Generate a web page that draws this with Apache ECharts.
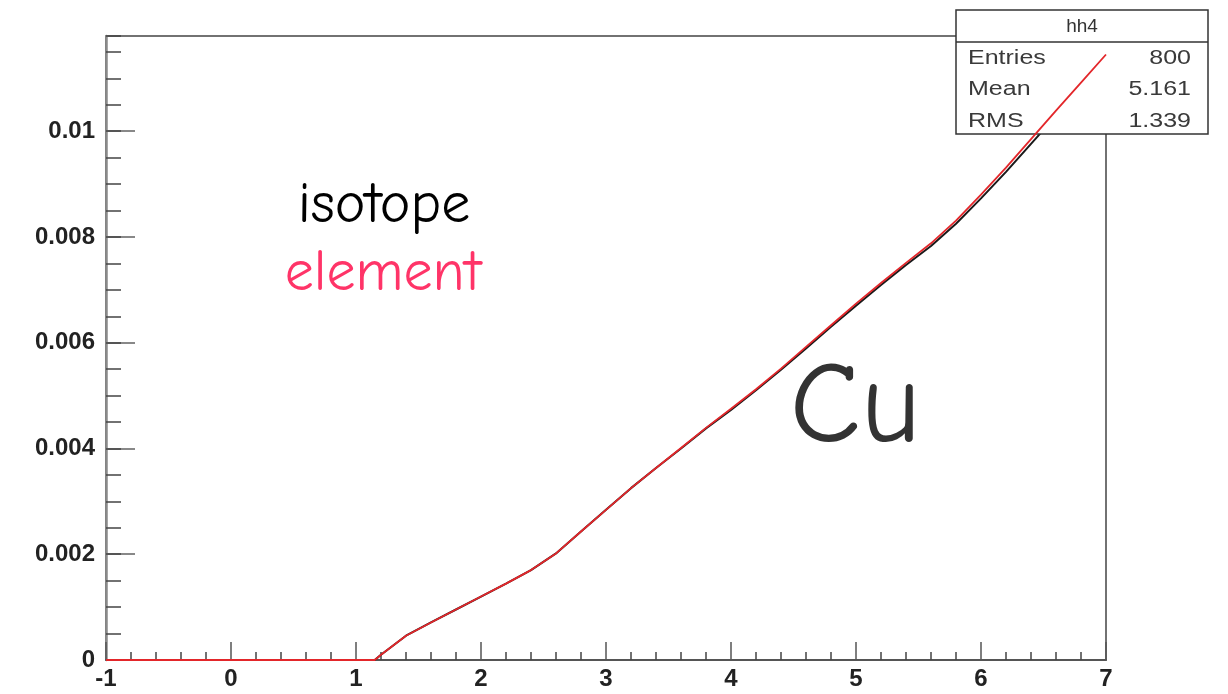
<!DOCTYPE html>
<html>
<head>
<meta charset="utf-8">
<script src="https://cdn.jsdelivr.net/npm/echarts@6/dist/echarts.min.js"></script>
<style>
html,body{margin:0;padding:0;background:#fff;}
#chart{width:1228px;height:694px;}
</style>
</head>
<body>
<div id="chart"></div>
<script>
// ---- data ----
const xValues   = [-1, 1.15, 1.2, 1.4, 1.6, 1.8, 2.0, 2.2, 2.4, 2.6, 2.8, 3.0, 3.2, 3.4, 3.6, 3.8, 4.0, 4.2, 4.4, 4.6, 4.8, 5.0, 5.2, 5.4, 5.6, 5.8, 6.0, 6.2, 6.4, 6.6, 6.8, 7.0];
const elementY  = [0, 0, 0.00010, 0.00046, 0.00071, 0.000955, 0.00120, 0.001445, 0.00170, 0.002015, 0.00243, 0.00284, 0.00325, 0.00363, 0.00401, 0.00439, 0.00475, 0.00512, 0.00551, 0.00592, 0.00633, 0.00674, 0.00713, 0.00751, 0.00788, 0.00831, 0.00880, 0.00931, 0.00985, 0.01039, 0.01092, 0.01145];
const isotopeY  = [0, 0, 0.00010, 0.00046, 0.00071, 0.000955, 0.00120, 0.001445, 0.00170, 0.002015, 0.00243, 0.00284, 0.00325, 0.00363, 0.00400, 0.00438, 0.00473, 0.00510, 0.00549, 0.00589, 0.00630, 0.00670, 0.00709, 0.00747, 0.00783, 0.00825, 0.00873, 0.00923, 0.00976, 0.01029, 0.01081, 0.01133];
const statsTitle  = 'hh4';
const statsNames  = ['Entries', 'Mean', 'RMS'];
const statsValues = ['800', '5.161', '1.339'];
const textIsotope = 'isotope';
const textElement = 'element';
const textCu      = 'Cu';

const xMin = -1, xMax = 7, xStep = 1;
const yMin = 0, yMax = 0.0118, yStep = 0.002, yMinorStep = 0.0005;

const elementData = xValues.map((x, i) => [x, elementY[i]]);
const isotopeData = xValues.map((x, i) => [x, isotopeY[i]]);

const chart = echarts.init(document.getElementById('chart'), null, {renderer: 'canvas'});

const labelFont = '"Liberation Sans", Arial, Helvetica, sans-serif';
const handFont = '"Comic Sans MS", "Comic Neue", "Open Sans", "Noto Sans", sans-serif';

const g = [];
g.push({
  type: 'rect', z: 10,
  shape: {x: 956, y: 10, width: 252, height: 124},
  style: {fill: '#fff', stroke: '#333', lineWidth: 1.5}
});
g.push({
  type: 'line', z: 11,
  shape: {x1: 956, y1: 42, x2: 1208, y2: 42},
  style: {stroke: '#333', lineWidth: 1.5}
});
g.push({
  type: 'text', z: 11, x: 1082, y: 27,
  style: {text: statsTitle, font: '19px ' + labelFont, fill: '#333', align: 'center', verticalAlign: 'middle'}
});
statsNames.forEach((n, i) => {
  g.push({
    type: 'text', z: 11, x: 968, y: 58 + i * 31.5, scaleX: 1.25,
    style: {text: n, font: '20px ' + labelFont, fill: '#3a3a3a', align: 'left', verticalAlign: 'middle'}
  });
  g.push({
    type: 'text', z: 11, x: 1191, y: 58 + i * 31.5, scaleX: 1.25,
    style: {text: statsValues[i], font: '20px ' + labelFont, fill: '#3a3a3a', align: 'right', verticalAlign: 'middle'}
  });
});
g.push({
  type: 'text', z: 11, x: 384, y: 206,
  style: {text: textIsotope, font: '58px ' + handFont, fill: '#000', align: 'center', verticalAlign: 'middle'}
});
g.push({
  type: 'text', z: 11, x: 383, y: 274,
  style: {text: textElement, font: '58px ' + handFont, fill: '#ff3468', align: 'center', verticalAlign: 'middle'}
});
g.push({
  type: 'text', z: 11, x: 855, y: 408,
  style: {text: textCu, font: '116px ' + handFont, fill: '#333', align: 'center', verticalAlign: 'middle'}
});

chart.setOption({
  backgroundColor: '#fff',
  animation: false,
  grid: {left: 106, right: 122, top: 36, bottom: 34, show: true, borderColor: '#444', borderWidth: 1.5, backgroundColor: 'transparent'},
  xAxis: {
    type: 'value', min: xMin, max: xMax, interval: xStep,
    axisLine: {show: true, onZero: false, lineStyle: {color: '#555', width: 2}},
    axisTick: {show: true, inside: true, length: 18, lineStyle: {color: '#555', width: 1.5}},
    minorTick: {show: true, splitNumber: 5, length: 8, lineStyle: {color: '#444', width: 1.5}},
    splitLine: {show: false},
    axisLabel: {show: true, margin: 7, fontSize: 24, fontWeight: 'bold', fontFamily: labelFont, color: '#222'}
  },
  yAxis: [{
    type: 'value', min: yMin, max: yMax, interval: yStep, position: 'left',
    axisLine: {show: true, onZero: false, lineStyle: {color: '#8a8a8a', width: 2.5}},
    axisTick: {show: true, inside: true, length: 29, lineStyle: {color: '#888', width: 2}},
    splitLine: {show: false},
    axisLabel: {show: true, margin: 11, fontSize: 24, fontWeight: 'bold', fontFamily: labelFont, color: '#222', showMaxLabel: false}
  }, {
    type: 'value', min: yMin, max: yMax, interval: yMinorStep, position: 'left',
    axisLine: {show: false, onZero: false},
    axisTick: {show: true, inside: true, length: 15, lineStyle: {color: '#444', width: 1.5}},
    splitLine: {show: false},
    axisLabel: {show: false}
  }],
  series: [{
    name: 'isotope', type: 'line', data: isotopeData, yAxisIndex: 0,
    showSymbol: false, symbol: 'none', z: 5, smooth: false,
    lineStyle: {color: '#1a1a1a', width: 2}
  }, {
    name: 'element', type: 'line', data: elementData, yAxisIndex: 0,
    showSymbol: false, symbol: 'none', z: 20, smooth: false,
    lineStyle: {color: '#e3262a', width: 1.8}
  }],
  graphic: g
});
</script>
</body>
</html>
